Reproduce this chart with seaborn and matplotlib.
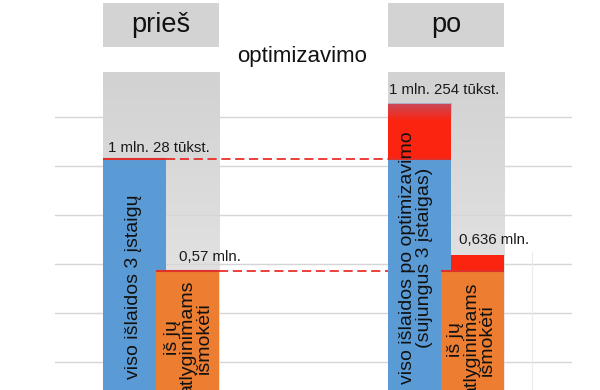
import matplotlib.pyplot as plt
import matplotlib.colors as mcolors
import numpy as np
import pandas as pd
import seaborn as sns

# data (mln. EUR)
periods = ["prieš", "po"]
series = ["viso išlaidos", "atlyginimams"]
base_total = [1.028, 1.028]     # viso išlaidos (be padidėjimo)
base_wages = [0.57, 0.57]       # atlyginimams (be padidėjimo)
top_total = [1.028, 1.254]      # viso išlaidos su padidėjimu
top_wages = [0.57, 0.636]       # atlyginimams su padidėjimu
total_labels = ["1 mln. 28 tūkst.", "1 mln. 254 tūkst."]
wage_labels = ["0,57 mln.", "0,636 mln."]
total_names = ["viso išlaidos 3 įstaigų",
               "viso išlaidos po optimizavimo\n(sujungus 3 įstaigas)"]
wage_names = ["iš jų\natlyginimams\nišmokėti", "iš jų\natlyginimams\nišmokėti"]
middle_text = "optimizavimo"

sns.set_style("white")
plt.rcParams["font.family"] = ["Liberation Sans", "DejaVu Sans"]

base = pd.DataFrame({
    "laikotarpis": periods * 2,
    "rodiklis": [series[0]] * 2 + [series[1]] * 2,
    "vertė": base_total + base_wages,
})
top = pd.DataFrame({
    "laikotarpis": periods * 2,
    "rodiklis": [series[0]] * 2 + [series[1]] * 2,
    "vertė": top_total + top_wages,
})

blue = "#5b9bd5"
orange = "#ed7d31"
red = "#fb2410"

fig = plt.figure(figsize=(6, 3.9), dpi=100)
ax = fig.add_axes([0, 0, 1, 1])

# gray background columns with gradient + header boxes
col_w = 0.407
grad = np.linspace(0, 1, 100).reshape(-1, 1)
cmap = mcolors.LinearSegmentedColormap.from_list("g", ["#d2d2d2", "#ececec"])
for i, p in enumerate(periods):
    ax.imshow(grad, cmap=cmap, extent=[i - col_w / 2, i + col_w / 2, 0.0, 1.38],
              aspect="auto", zorder=0, origin="upper")
    ax.add_patch(plt.Rectangle((i - col_w / 2, 1.486), col_w, 0.179,
                               color="#d3d3d3", lw=0, zorder=0))
    ax.text(i, 1.576, p, ha="center", va="center", fontsize=19.5, color="#111111")

# gridlines
for v in np.arange(0.2, 1.3, 0.2):
    ax.plot([-0.372, 1.439], [v, v], color="#d6d6d6", lw=1, zorder=1)
ax.plot([1.302, 1.302], [0.0, 0.65], color="#ebebeb", lw=0.8, zorder=1)

# bars: red (increase) first, then base bars over them
sns.barplot(data=top, x="laikotarpis", y="vertė", hue="rodiklis", hue_order=series,
            order=periods, palette=[red, red], width=0.372, gap=-0.19,
            saturation=1, legend=False, ax=ax, zorder=2, linewidth=0)
sns.barplot(data=base, x="laikotarpis", y="vertė", hue="rodiklis", hue_order=series,
            order=periods, palette=[blue, orange], width=0.372, gap=-0.19,
            saturation=1, legend=False, ax=ax, zorder=3, linewidth=0)

red_total = ax.containers[0].patches
base_bars = list(ax.containers[2].patches) + list(ax.containers[3].patches)

# thin red edge on top of base bars
for b in base_bars:
    ax.plot([b.get_x(), b.get_x() + b.get_width()], [b.get_height()] * 2,
            color="#e0302a", lw=1.5, zorder=4, solid_capstyle="butt")

# bluish blend at top of red increase bar
b = red_total[1]
fade = np.zeros((50, 1, 4))
fade[..., :3] = mcolors.to_rgb("#8a7ab8")
fade[:, 0, 3] = np.linspace(0.45, 0, 50)
ax.imshow(fade, extent=[b.get_x(), b.get_x() + b.get_width(),
                        b.get_height() - 0.07, b.get_height()],
          aspect="auto", zorder=3, origin="upper")

# dashed connectors
bt_pre, bt_po = ax.containers[2].patches
bw_pre = ax.containers[3].patches[0]
ax.plot([bt_pre.get_x() + bt_pre.get_width(), bt_po.get_x()],
        [base_total[0]] * 2, color="#e8201c", lw=1.2, dashes=(5.5, 2.8), zorder=4)
ax.plot([bw_pre.get_x() + bw_pre.get_width(), bt_po.get_x()],
        [base_wages[0]] * 2, color="#e8201c", lw=1.2, dashes=(5.5, 2.8), zorder=4)

# value labels
for i in range(2):
    ax.text(i - 0.007, top_total[i] + (0.045 if i == 0 else 0.056), total_labels[i],
            ha="center", va="center", fontsize=10.8, color="#1a1a1a", zorder=5)
    ax.text(i + 0.17, top_wages[i] + 0.06, wage_labels[i],
            ha="center", va="center", fontsize=10.8, color="#1a1a1a", zorder=5)

# rotated labels inside bars
ax.text(-0.095, 0.506, total_names[0], rotation=90, ha="center", va="center",
        fontsize=14, color="#111111", zorder=5)
ax.text(1 - 0.105, 0.624, total_names[1], rotation=90, ha="center", va="center",
        fontsize=14, color="#111111", linespacing=0.95, zorder=5)
ax.text(0.095, 0.298, wage_names[0], rotation=90, ha="center", va="center",
        fontsize=14, color="#111111", linespacing=0.92, zorder=5)
ax.text(1 + 0.088, 0.29, wage_names[1], rotation=90, ha="center", va="center",
        fontsize=14, color="#111111", linespacing=0.92, zorder=5)

ax.text(0.495, 1.445, middle_text, ha="center", va="center", fontsize=16,
        color="#111111")

ax.set_xlim(-0.565, 1.540)
ax.set_ylim(0.0857, 1.6776)
ax.axis("off")

fig.savefig("out.png", dpi=100)
